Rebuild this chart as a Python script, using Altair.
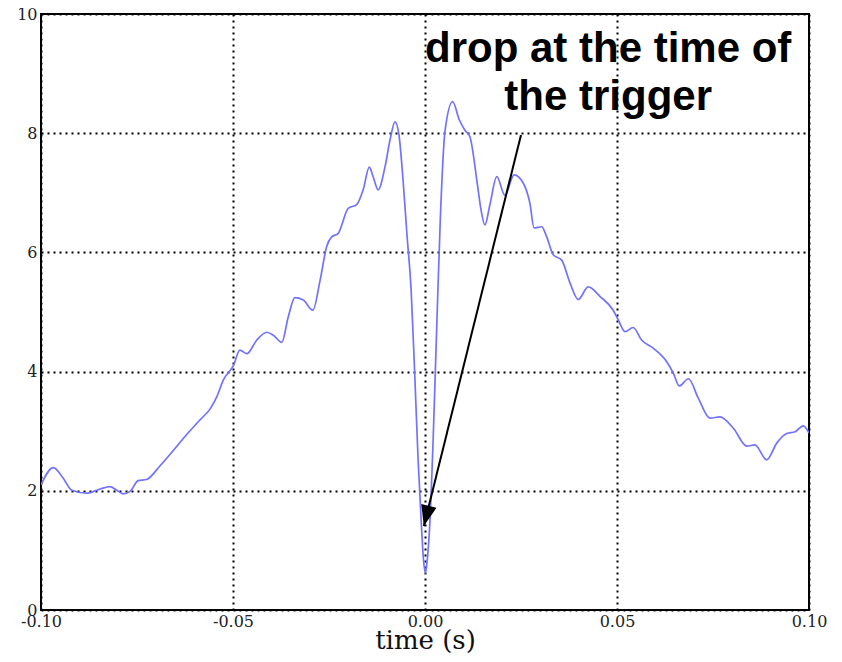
import altair as alt
import pandas as pd

# ---- data ----
time_s = [-0.1000, -0.0968, -0.0942, -0.0920, -0.0881, -0.0846, -0.0820, -0.0803,
          -0.0786, -0.0768, -0.0747, -0.0725, -0.0690, -0.0655, -0.0621, -0.0586,
          -0.0560, -0.0542, -0.0525, -0.0499, -0.0482, -0.0464, -0.0438, -0.0412,
          -0.0395, -0.0373, -0.0356, -0.0339, -0.0317, -0.0292, -0.0273, -0.0256,
          -0.0243, -0.0226, -0.0200, -0.0178, -0.0161, -0.0145, -0.0135, -0.0122,
          -0.0104, -0.0091, -0.0078, -0.0068, -0.0057, -0.0047, -0.0036, -0.0027,
          -0.0018, -0.0009, -0.0004, 0.0001, 0.0006, 0.0012, 0.0021, 0.0031,
          0.0040, 0.0052, 0.0072, 0.0089, 0.0104, 0.0117, 0.0135, 0.0146,
          0.0156, 0.0169, 0.0187, 0.0208, 0.0232, 0.0256, 0.0273, 0.0284,
          0.0304, 0.0317, 0.0334, 0.0356, 0.0378, 0.0399, 0.0425, 0.0456,
          0.0490, 0.0503, 0.0521, 0.0542, 0.0564, 0.0595, 0.0629, 0.0647,
          0.0662, 0.0686, 0.0712, 0.0742, 0.0768, 0.0803, 0.0838, 0.0859,
          0.0890, 0.0916, 0.0942, 0.0964, 0.0985, 0.1000]
signal = [2.10, 2.39, 2.21, 2.01, 1.96, 2.03, 2.07, 2.01,
          1.95, 1.99, 2.17, 2.19, 2.42, 2.68, 2.94, 3.19,
          3.37, 3.58, 3.86, 4.10, 4.36, 4.30, 4.53, 4.66,
          4.61, 4.49, 4.92, 5.24, 5.20, 5.03, 5.54, 6.10,
          6.26, 6.32, 6.74, 6.80, 7.05, 7.43, 7.27, 7.05,
          7.44, 7.89, 8.19, 7.98, 7.20, 6.30, 5.35, 4.00,
          2.53, 1.38, 0.85, 0.62, 0.85, 1.38, 2.82, 4.84,
          6.58, 8.03, 8.53, 8.23, 8.05, 7.94, 7.21, 6.71,
          6.46, 6.80, 7.27, 6.96, 7.30, 7.16, 6.83, 6.41,
          6.43, 6.26, 5.96, 5.87, 5.48, 5.21, 5.42, 5.26,
          5.03, 4.87, 4.67, 4.74, 4.53, 4.39, 4.17, 3.97,
          3.76, 3.88, 3.55, 3.22, 3.24, 3.05, 2.75, 2.77,
          2.52, 2.80, 2.96, 2.99, 3.09, 2.97]

x_ticks = [-0.10, -0.05, 0.00, 0.05, 0.10]
y_ticks = [0, 2, 4, 6, 8, 10]

annotation_text = ["drop at the time of", "the trigger"]
annotation_pos = [0.0477, 9.20]        # text anchor (time, value)
arrow_start = [0.0250, 7.97]           # arrow tail
arrow_tip = [-0.0003, 1.41]            # arrow head

df = pd.DataFrame({"t": time_s, "v": signal})

x_scale = alt.Scale(domain=[-0.1, 0.1], nice=False, zero=False)
y_scale = alt.Scale(domain=[0, 10], nice=False)

x_axis = alt.Axis(
    values=x_ticks, title="time (s)",
    labelExpr="(datum.value < 0 ? '-' : '') + format(abs(datum.value), '.2f')",
    labelFont="DejaVu Serif", labelFontSize=16, labelColor="#222222",
    labelPadding=3, labelFlush=False, labelOverlap=False,
    titleFont="DejaVu Serif", titleFontSize=26, titleFontWeight="normal",
    titleColor="#111111", titleBaseline="alphabetic", titleY=38,
    grid=True, gridColor="black", gridDash=[2, 4], gridWidth=2, gridOpacity=1,
    ticks=False, domain=False,
)
y_axis = alt.Axis(
    values=y_ticks, title=None, format="d",
    labelFont="DejaVu Serif", labelFontSize=16, labelColor="#222222",
    labelPadding=4, labelFlush=False, labelOverlap=False,
    grid=True, gridColor="black", gridDash=[2, 4], gridWidth=2, gridOpacity=1,
    ticks=False, domain=False,
)

line = alt.Chart(df).mark_line(
    color="#7272ff", strokeWidth=1.7, interpolate="monotone", clip=True
).encode(
    x=alt.X("t:Q", scale=x_scale, axis=x_axis),
    y=alt.Y("v:Q", scale=y_scale, axis=y_axis),
)

arrow_df = pd.DataFrame({
    "x": [arrow_start[0]], "y": [arrow_start[1]],
    "x2": [arrow_tip[0]], "y2": [arrow_tip[1]],
})
arrow_line = alt.Chart(arrow_df).mark_rule(color="black", strokeWidth=2).encode(
    x=alt.X("x:Q", scale=x_scale), y=alt.Y("y:Q", scale=y_scale),
    x2="x2:Q", y2="y2:Q",
)

head_df = pd.DataFrame({"x": [arrow_tip[0]], "y": [arrow_tip[1]]})
arrow_head = alt.Chart(head_df).mark_point(
    shape="M0,0L-0.38,1L0.38,1Z", size=1700, angle=194,
    filled=True, color="black", opacity=1, strokeWidth=0,
).encode(
    x=alt.X("x:Q", scale=x_scale), y=alt.Y("y:Q", scale=y_scale),
)

text_df = pd.DataFrame({"x": [annotation_pos[0]], "y": [annotation_pos[1]],
                        "label": ["\n".join(annotation_text)]})
text = alt.Chart(text_df).mark_text(
    font="Liberation Sans", fontWeight="bold", fontSize=42,
    align="center", baseline="alphabetic", lineBreak="\n", lineHeight=48,
    color="black",
).encode(
    x=alt.X("x:Q", scale=x_scale), y=alt.Y("y:Q", scale=y_scale),
    text="label:N",
)

chart = alt.layer(line, arrow_line, arrow_head, text).properties(
    width=768, height=596,
    autosize=alt.AutoSizeParams(type="none"),
    padding={"left": 33, "top": 6, "right": 25, "bottom": 44},
    background="white",
).configure_view(stroke="black", strokeWidth=2)

chart.save("out.html", embed_options={"renderer": "svg", "actions": False})
